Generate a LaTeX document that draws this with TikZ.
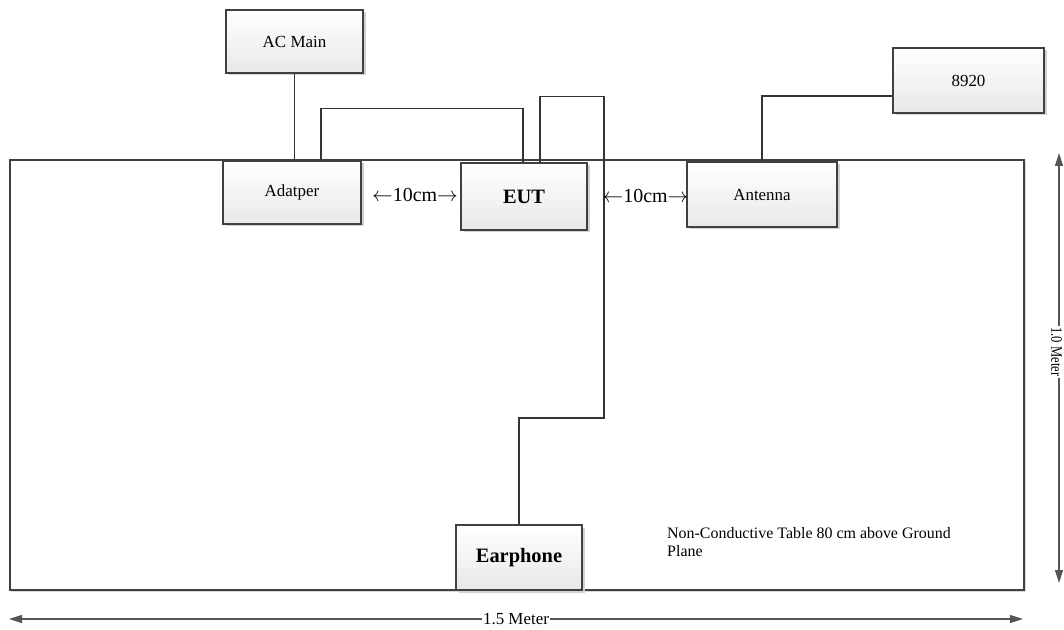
\documentclass[tikz,border=0pt]{standalone}
\usepackage{fontspec}
\setmainfont{Liberation Serif}
\usetikzlibrary{arrows.meta,shadows}
\definecolor{boxc}{HTML}{404040}
\definecolor{wirec}{HTML}{333333}
\definecolor{dimc}{HTML}{555555}
\tikzset{
  unitbox/.style={draw=boxc, line width=1.4bp, top color=white, bottom color=black!9,
    inner sep=0pt, font=\fontsize{17}{20}\selectfont,
    drop shadow={shadow xshift=2.5bp, shadow yshift=-2.5bp, fill=black!18, opacity=1}},
  boldbox/.style={unitbox, font=\fontsize{20.5}{24}\selectfont\bfseries},
  wire/.style={draw=wirec, line width=1.2bp},
  dimline/.style={draw=dimc, line width=1.2bp, {Triangle[length=13bp,width=8bp]}-{Triangle[length=13bp,width=8bp]}},
  gaplabel/.style={font=\fontsize{20}{23}\selectfont, inner sep=0pt},
  dimlabel/.style={fill=white, inner sep=1.5bp, font=\fontsize{17}{20}\selectfont}
}
\begin{document}
\begin{tikzpicture}[x=1bp, y=-1bp]
\useasboundingbox (0,0) rectangle (1064,630);
% table
\node[draw=boxc, line width=2bp, minimum width=1014bp, minimum height=430bp, inner sep=0pt,
  drop shadow={shadow xshift=1.5bp, shadow yshift=-1.5bp, fill=black!15, opacity=1}, fill=white] (table) at (517,375) {};
% boxes
\node[unitbox, minimum width=137bp, minimum height=63bp] (ac) at (294.5,41.5) {AC Main};
\node[unitbox, minimum width=138bp, minimum height=63bp] (adp) at (292,192.5) {Adatper};
\node[boldbox, minimum width=126bp, minimum height=67bp] (eut) at (524,196.5) {EUT};
\node[unitbox, minimum width=150bp, minimum height=65bp] (ant) at (762,194.5) {Antenna};
\node[unitbox, minimum width=151bp, minimum height=65bp] (gen) at (968.5,80.5) {8920};
\node[boldbox, minimum width=126bp, minimum height=65bp] (earph) at (519,557.5) {Earphone};
% wires
\draw[wire] (ac.south) -- (ac.south |- adp.north);
\draw[wire] ([xshift=29bp]adp.north) -- ++(0,-52) -| ([xshift=-1bp]eut.north);
\coordinate (bend1) at (604,418);
\draw[wire] ([xshift=16bp]eut.north) -- ++(0,-66) -| (bend1) -| (earph.north);
\draw[wire] (ant.north) |- ([yshift=-15.5bp]gen.west);
% gaps
\node[gaplabel] (gap1) at (415,195) {$\leftarrow$10cm$\rightarrow$};
\node[gaplabel] (gap2) at (645.5,196) {$\leftarrow$10cm$\rightarrow$};
% note
\node[anchor=north west, inner sep=0pt, align=left, font=\fontsize{16}{18}\selectfont] (note) at (667,527.5)
  {Non-Conductive Table 80 cm above Ground\\Plane};
% dimensions
\coordinate (h1) at (9,619);
\coordinate (h2) at (1023,619);
\draw[dimline] (h1) -- (h2) node[midway, dimlabel] (hlab) {1.5 Meter};
\coordinate (v1) at (1059,153);
\coordinate (v2) at (1059,583);
\draw[dimline] (v1) -- (v2);
\node[fill=white, inner xsep=1.5bp, inner ysep=0.5bp, rotate=-90, font=\fontsize{16}{19}\selectfont] (vlab) at (1056.5,352) {\scalebox{0.79}[1]{1.0 Meter}};
\end{tikzpicture}
\end{document}
